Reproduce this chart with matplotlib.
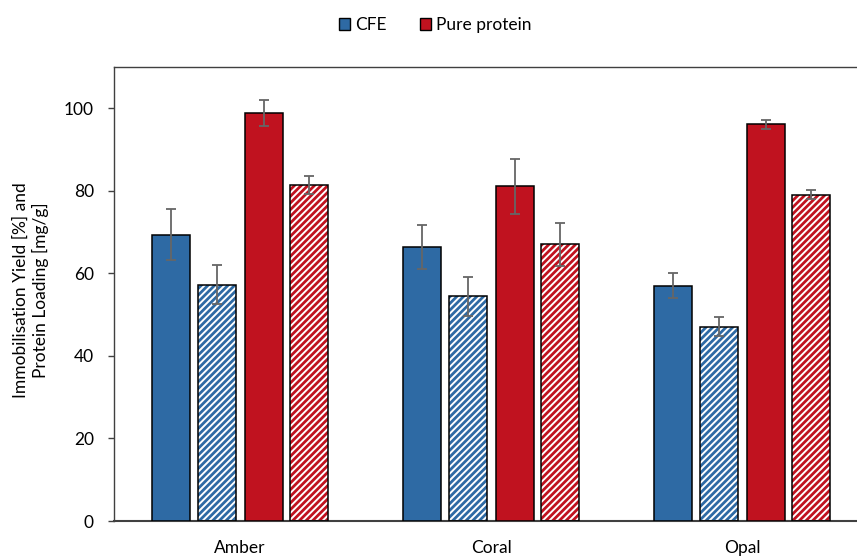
import matplotlib
matplotlib.use("Agg")
import matplotlib.pyplot as plt
import numpy as np
from matplotlib.patches import Patch

plt.rcParams['font.family'] = ['Lato', 'DejaVu Sans']
plt.rcParams['hatch.linewidth'] = 2.0

categories = ["Amber", "Coral", "Opal"]

cfe_yield = [69.4, 66.3, 57.0]
cfe_yield_err = [6.2, 5.3, 3.0]
cfe_loading = [57.3, 54.4, 47.1]
cfe_loading_err = [4.8, 4.7, 2.3]

pure_yield = [98.8, 81.1, 96.1]
pure_yield_err = [3.1, 6.7, 1.1]
pure_loading = [81.5, 67.0, 79.1]
pure_loading_err = [2.2, 5.2, 1.0]

blue = "#2E6AA4"
red = "#C0121F"
err_color = "#666666"
fs = 12.5

fig = plt.figure(figsize=(8.57, 5.57), dpi=100)
ax = fig.add_axes([114 / 857, 1 - 521 / 557, 754 / 857, (521 - 67) / 557])

x = np.arange(len(categories))
width = 0.151
offsets = [-0.274, -0.091, 0.095, 0.274]

series = [
    (cfe_yield, cfe_yield_err, blue, False),
    (cfe_loading, cfe_loading_err, blue, True),
    (pure_yield, pure_yield_err, red, False),
    (pure_loading, pure_loading_err, red, True),
]

for (vals, errs, color, hatched), off in zip(series, offsets):
    pos = x + off
    if hatched:
        ax.bar(pos, vals, width, facecolor="white", edgecolor=color,
               hatch="/////", linewidth=0, zorder=2)
        ax.bar(pos, vals, width, facecolor="none", edgecolor="black",
               linewidth=1.1, zorder=3)
    else:
        ax.bar(pos, vals, width, facecolor=color, edgecolor="black",
               linewidth=1.1, zorder=3)
    ax.errorbar(pos, vals, yerr=errs, fmt="none", ecolor=err_color,
                elinewidth=1.3, capsize=3.8, capthick=1.3, zorder=4)

ax.set_xlim(-0.5, 2.5)
ax.set_ylim(0, 110)
ax.set_yticks([0, 20, 40, 60, 80, 100])
ax.set_xticks(x)
ax.set_xticklabels(categories)
ax.tick_params(axis="x", length=0, pad=14, labelsize=fs, colors="black")
ax.tick_params(axis="y", direction="out", length=4.5, width=1, pad=10,
               labelsize=fs, color="#404040")

for side in ["left", "top", "right"]:
    ax.spines[side].set_color("#404040")
    ax.spines[side].set_linewidth(1.0)
ax.spines["bottom"].set_color("#404040")
ax.spines["bottom"].set_linewidth(1.5)

fig.text(0.036, (1 - 290 / 557), "Immobilisation Yield [%] and\nProtein Loading [mg/g]",
         rotation=90, ha="center", va="center", fontsize=fs, linespacing=1.2)

handles = [Patch(facecolor=blue, edgecolor="black", linewidth=1.0),
           Patch(facecolor=red, edgecolor="black", linewidth=1.0)]
fig.legend(handles, ["CFE", "Pure protein"], loc="center",
           bbox_to_anchor=(0.508, 1 - 25 / 557), ncol=2, frameon=False,
           fontsize=fs, handlelength=0.65, handleheight=0.65,
           handletextpad=0.3, columnspacing=1.9)

fig.savefig("out.png", dpi=100)
